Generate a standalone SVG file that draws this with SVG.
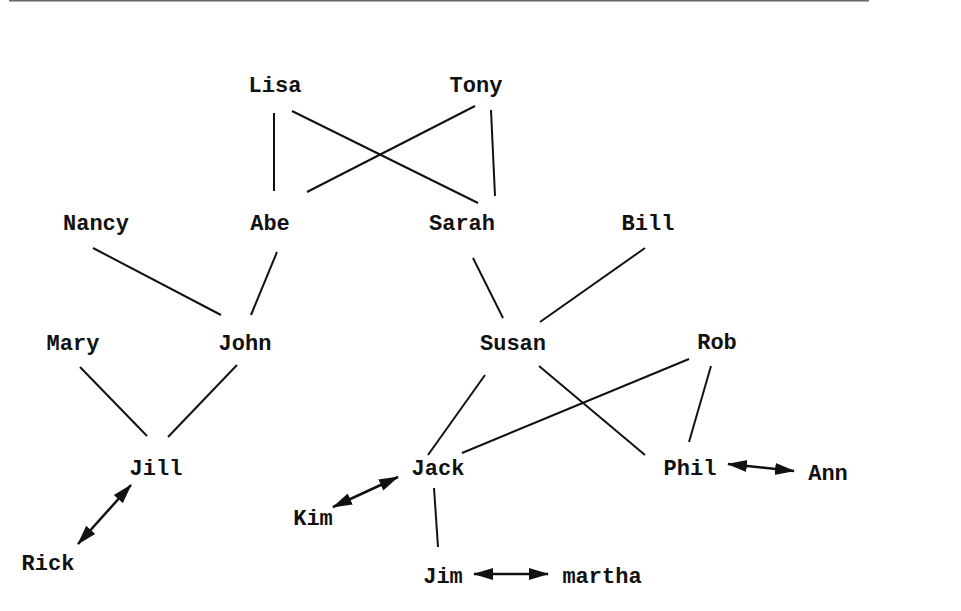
<svg xmlns="http://www.w3.org/2000/svg" width="961" height="611" viewBox="0 0 961 611">
<style>
text{font-family:"Liberation Mono","Courier New",monospace;font-size:22px;font-weight:bold;fill:#111;text-anchor:middle}
.e{stroke:#111;stroke-width:2;fill:none}
.a{marker-start:url(#h);marker-end:url(#h);stroke-width:2.5}
</style>
<defs>
<marker id="h" markerUnits="userSpaceOnUse" markerWidth="20" markerHeight="14" refX="19" refY="7" orient="auto-start-reverse" viewBox="0 0 20 14">
<path d="M0,1 L20,7 L0,13 Z" fill="#111"/>
</marker>
</defs>
<rect width="961" height="611" fill="#fff"/>
<line x1="9" y1="0.5" x2="869" y2="0.5" stroke="#666" stroke-width="2"/>
<g id="connectors">
<line class="e" x1="274" y1="113" x2="274" y2="191"/>
<line class="e" x1="292" y1="111" x2="478" y2="203"/>
<line class="e" x1="475" y1="106" x2="307" y2="192"/>
<line class="e" x1="491" y1="110" x2="495" y2="196"/>
<line class="e" x1="93" y1="248" x2="221" y2="315"/>
<line class="e" x1="277" y1="252" x2="251" y2="315"/>
<line class="e" x1="473" y1="258" x2="503" y2="318"/>
<line class="e" x1="645" y1="248" x2="540" y2="322"/>
<line class="e" x1="80" y1="367" x2="147" y2="436"/>
<line class="e" x1="237" y1="365" x2="168" y2="437"/>
<line class="e" x1="485" y1="375" x2="428" y2="455"/>
<line class="e" x1="539" y1="366" x2="645" y2="455"/>
<line class="e" x1="689" y1="359" x2="462" y2="453"/>
<line class="e" x1="711" y1="366" x2="689" y2="442"/>
<line class="e" x1="434" y1="488" x2="438" y2="547"/>
<line class="e a" x1="131" y1="485" x2="78" y2="544"/>
<line class="e a" x1="398" y1="477" x2="333" y2="507"/>
<line class="e a" x1="474" y1="574" x2="548" y2="574"/>
<line class="e a" x1="728" y1="464" x2="794" y2="471"/>
</g>
<g id="Lisa"><text x="275" y="92">Lisa</text></g>
<g id="Tony"><text x="476" y="92">Tony</text></g>
<g id="Nancy"><text x="96" y="230">Nancy</text></g>
<g id="Abe"><text x="270" y="230">Abe</text></g>
<g id="Sarah"><text x="462" y="230">Sarah</text></g>
<g id="Bill"><text x="648" y="230">Bill</text></g>
<g id="Mary"><text x="73" y="350">Mary</text></g>
<g id="John"><text x="245" y="350">John</text></g>
<g id="Susan"><text x="513" y="350">Susan</text></g>
<g id="Rob"><text x="717" y="349">Rob</text></g>
<g id="Jill"><text x="156" y="475">Jill</text></g>
<g id="Rick"><text x="48" y="570">Rick</text></g>
<g id="Jack"><text x="438" y="475">Jack</text></g>
<g id="Kim"><text x="313" y="525">Kim</text></g>
<g id="Jim"><text x="443" y="583">Jim</text></g>
<g id="martha"><text x="602" y="583">martha</text></g>
<g id="Phil"><text x="690" y="475">Phil</text></g>
<g id="Ann"><text x="828" y="480">Ann</text></g>
</svg>
